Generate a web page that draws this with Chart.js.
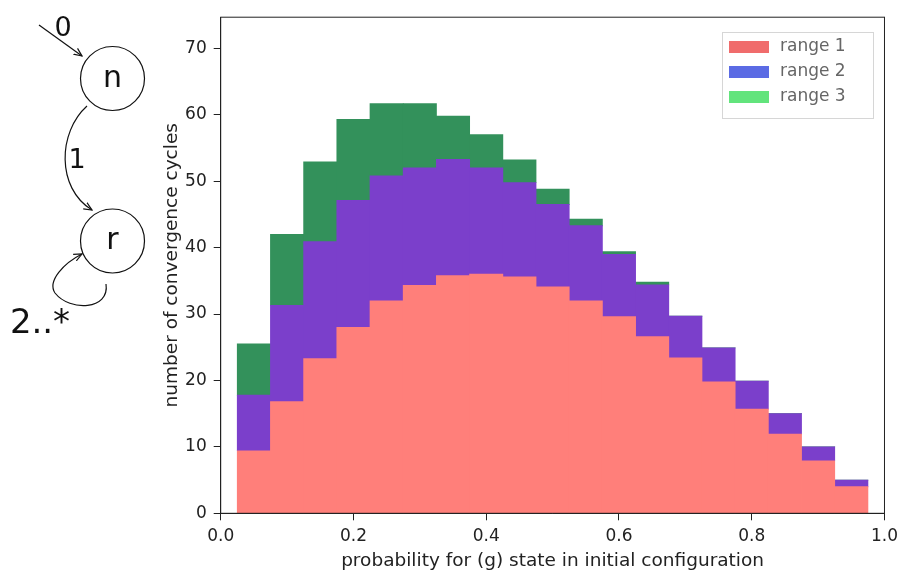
<!DOCTYPE html>
<html>
<head>
<meta charset="utf-8">
<script src="https://cdn.jsdelivr.net/npm/chart.js@4.4.1/dist/chart.umd.min.js"></script>
<style>
  html, body { margin: 0; padding: 0; background: #fff; }
  #wrap { position: relative; width: 904px; height: 572px; }
  #chart { position: absolute; left: 0; top: 0; }
  #fsm { position: absolute; left: 0; top: 0; }
</style>
</head>
<body>
<div id="wrap">
  <canvas id="chart" width="904" height="572"></canvas>
  <!-- state diagram on the left -->
  <svg id="fsm" width="160" height="345" font-family="DejaVu Sans, sans-serif">
    <defs>
      <marker id="arr" viewBox="0 0 10 10" refX="9" refY="5" markerWidth="9" markerHeight="9" orient="auto-start-reverse" markerUnits="userSpaceOnUse">
        <path d="M0,1 L9,5 L0,9" fill="none" stroke="#111" stroke-width="1.3"/>
      </marker>
    </defs>
    <line x1="39" y1="25" x2="82" y2="56" stroke="#111" stroke-width="1.2" marker-end="url(#arr)"/>
    <text x="63" y="26" font-size="27" text-anchor="middle" dominant-baseline="central" fill="#111">0</text>
    <circle cx="112.5" cy="78.5" r="32" fill="none" stroke="#111" stroke-width="1.2"/>
    <text x="112.5" y="76" font-size="30" text-anchor="middle" dominant-baseline="central" fill="#111">n</text>
    <path d="M87,106 C58,132 56,188 92,210" fill="none" stroke="#111" stroke-width="1.2" marker-end="url(#arr)"/>
    <text x="77" y="158" font-size="27" text-anchor="middle" dominant-baseline="central" fill="#111">1</text>
    <circle cx="112.5" cy="241" r="32" fill="none" stroke="#111" stroke-width="1.2"/>
    <text x="112.5" y="238" font-size="30" text-anchor="middle" dominant-baseline="central" fill="#111">r</text>
    <path d="M106,284 C110,310 70,312 55,293 C47,281 64,263 82,254" fill="none" stroke="#111" stroke-width="1.2" marker-end="url(#arr)"/>
    <text x="40" y="321" font-size="34" text-anchor="middle" dominant-baseline="central" fill="#111">2..*</text>
  </svg>
</div>
<script>
// bin centres of the histogram (bin width 0.05)
const binCenters = [0.05, 0.10, 0.15, 0.20, 0.25, 0.30, 0.35, 0.40, 0.45, 0.50,
                    0.55, 0.60, 0.65, 0.70, 0.75, 0.80, 0.85, 0.90, 0.95];
const range1 = [9.4, 16.8, 23.3, 28.0, 32.0, 34.3, 35.8, 36.0, 35.6, 34.1,
                32.0, 29.6, 26.6, 23.4, 19.8, 15.7, 11.9, 7.9, 4.0];
const range2 = [8.4, 14.5, 17.6, 19.1, 18.8, 17.7, 17.5, 16.0, 14.2, 12.4,
                11.3, 9.4, 7.8, 6.3, 5.1, 4.2, 3.1, 2.1, 1.0];
const range3 = [7.7, 10.7, 12.0, 12.2, 10.9, 9.7, 6.5, 5.0, 3.4, 2.3,
                1.0, 0.4, 0.4, 0, 0, 0, 0, 0, 0];
const seriesNames = ["range 1", "range 2", "range 3"];
const xTicks = [0, 0.2, 0.4, 0.6, 0.8, 1.0];
const yTicks = [0, 10, 20, 30, 40, 50, 60, 70];

const barColors = ["#ff7f7a", "#7b3fcb", "#33915b"];
const legendColors = ["#f06c6c", "#5b6be4", "#62e47c"];

function toPoints(values) {
  return values.map((v, i) => ({ x: binCenters[i], y: v }));
}

// box around the plot area plus the legend with its frame
const framePlugin = {
  id: "frame",
  afterDraw(chart) {
    const { ctx, chartArea: a } = chart;
    ctx.save();
    ctx.strokeStyle = "#222";
    ctx.lineWidth = 1;
    ctx.strokeRect(a.left, a.top, a.right - a.left, a.bottom - a.top);

    // legend
    const lx = 722, ly = 32, lw = 151, lh = 86;
    ctx.fillStyle = "rgba(255,255,255,0.85)";
    ctx.strokeStyle = "#d6d6d6";
    ctx.fillRect(lx, ly, lw, lh);
    ctx.strokeRect(lx + 0.5, ly + 0.5, lw, lh);
    ctx.font = "17px 'DejaVu Sans'";
    ctx.textBaseline = "middle";
    seriesNames.forEach((name, i) => {
      const cy = 47 + i * 25;
      ctx.fillStyle = legendColors[i];
      ctx.fillRect(729, cy - 6, 40, 12);
      ctx.fillStyle = "#666";
      ctx.fillText(name, 780, cy);
    });
    ctx.restore();
  }
};

const tickFont = { family: "DejaVu Sans", size: 17 };
const titleFont = { family: "DejaVu Sans", size: 18.5 };

new Chart(document.getElementById("chart"), {
  type: "bar",
  data: {
    datasets: [range1, range2, range3].map((vals, i) => ({
      label: seriesNames[i],
      data: toPoints(vals),
      backgroundColor: barColors[i],
      borderWidth: 0,
      categoryPercentage: 1.0,
      barPercentage: 1.0,
      inflateAmount: 0.4
    }))
  },
  options: {
    responsive: false,
    animation: false,
    layout: { padding: { left: 160, top: 16, right: 16, bottom: 0 } },
    plugins: { legend: { display: false }, tooltip: { enabled: false } },
    scales: {
      x: {
        type: "linear",
        stacked: true,
        offset: false,
        min: 0,
        max: 1,
        afterBuildTicks: (s) => { s.ticks = xTicks.map(v => ({ value: v })); },
        afterFit: (s) => { s.height = 58.7; },
        ticks: {
          font: tickFont,
          color: "#222",
          padding: 6,
          maxRotation: 0,
          callback: (v) => Number(v).toFixed(1)
        },
        grid: { offset: false, drawOnChartArea: false, drawTicks: true, tickLength: 7, color: "#222" },
        border: { display: true, color: "#222" },
        title: {
          display: true,
          text: "probability for (g) state in initial configuration",
          font: titleFont,
          color: "#222",
          padding: { top: 0, bottom: 0 }
        }
      },
      y: {
        stacked: true,
        min: 0,
        max: 74.7,
        afterBuildTicks: (s) => { s.ticks = yTicks.map(v => ({ value: v })); },
        afterFit: (s) => { s.width = 60.7; },
        ticks: { font: tickFont, color: "#222", padding: 7 },
        grid: { drawOnChartArea: false, drawTicks: true, tickLength: 7, color: "#222" },
        border: { display: true, color: "#222" },
        title: {
          display: true,
          text: "number of convergence cycles",
          font: titleFont,
          color: "#222",
          padding: { top: 1, bottom: 0 }
        }
      }
    }
  },
  plugins: [framePlugin]
});
</script>
</body>
</html>
